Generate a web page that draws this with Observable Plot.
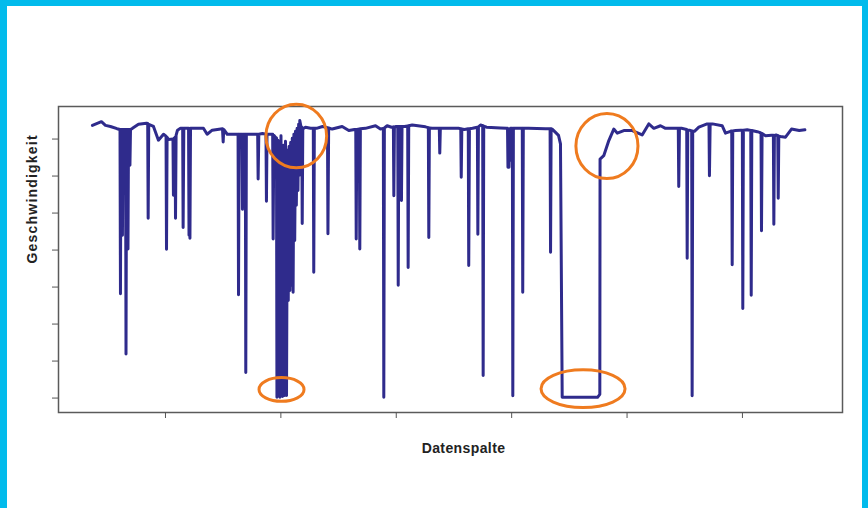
<!DOCTYPE html>
<html><head><meta charset="utf-8">
<script src="https://cdn.jsdelivr.net/npm/d3@7"></script>
<script src="https://cdn.jsdelivr.net/npm/@observablehq/plot@0.6"></script>
<style>
html,body{margin:0;padding:0;background:#fff;}
#wrap{position:relative;width:868px;height:508px;overflow:hidden;background:#fff;}
#chart svg{position:absolute;left:0;top:0;}
.b{position:absolute;background:#02bbec;}
</style></head><body>
<div id="wrap"><div id="chart"></div>
<div class="b" style="left:0;top:0;width:868px;height:6px"></div>
<div class="b" style="left:0;top:0;width:7px;height:508px"></div>
<div class="b" style="left:862px;top:0;width:6px;height:508px"></div>
</div>
<script>
// [Datenspalte, Geschwindigkeit]
const messreihe = [
[367,73.7],[445,74.7],[480,73.7],[523,73.4],[580,72.8],[606,72.6],
[610,28.2],[614,72.6],[623,72.6],[627,44.0],[632,72.6],[654,72.6],[658,11.9],[663,72.6],
[671,72.6],[675,40.3],[680,72.6],[688,72.6],[692,62.9],[697,72.6],[714,72.9],[766,74.0],
[835,74.3],[846,74.2],[850,48.6],[855,74.0],[896,73.4],[939,69.7],[983,71.3],[1005,70.8],
[1009,40.2],[1014,70.5],[1026,69.9],[1065,70.0],[1069,54.8],[1074,70.0],[1083,70.5],[1087,48.6],
[1092,71.0],[1104,72.4],[1130,72.9],[1149,72.9],[1153,46.1],[1159,72.9],[1173,72.9],[1200,72.9],
[1204,44.0],[1208,60.0],[1212,43.2],[1217,72.9],[1231,72.9],[1329,72.9],[1361,71.3],[1405,72.4],
[1494,72.8],[1500,69.2],[1505,72.6],[1535,71.3],[1621,71.3],[1629,71.3],[1633,27.9],[1638,71.3],
[1663,71.3],[1667,51.0],[1673,71.3],[1692,71.3],[1696,6.9],[1701,71.3],[1719,71.3],[1780,71.3],
[1799,71.3],[1803,59.2],[1809,71.3],[1841,71.5],[1871,71.3],[1875,53.2],[1880,71.3],[1910,71.3],
[1929,71.3],[1933,43.0],[1939,71.0],[1953,70.5],[1962,70.3],[1966,0.2],[1975,69.7],[1992,0.2],
[2001,70.9],[2014,0.4],[2023,68.3],[2031,0.7],[2040,69.4],[2049,0.7],[2057,67.0],[2064,26.4],
[2071,68.0],[2078,29.1],[2085,69.1],[2092,30.5],[2099,70.2],[2106,28.6],[2113,71.3],[2120,42.6],
[2127,72.1],[2134,52.1],[2141,72.9],[2148,56.1],[2154,74.0],[2160,60.2],[2164,75.0],[2174,73.4],
[2181,73.2],[2185,47.2],[2190,73.0],[2196,72.9],[2213,73.2],[2257,72.9],[2281,72.9],[2285,34.0],
[2290,72.9],[2309,72.9],[2361,73.4],[2404,73.1],[2408,44.4],[2414,73.0],[2445,72.7],[2531,73.4],
[2589,72.3],[2638,72.6],[2649,72.6],[2653,43.0],[2658,72.6],[2680,72.7],[2684,40.3],[2689,72.8],
[2733,72.9],[2820,73.6],[2863,72.7],[2888,72.9],[2892,0.2],[2897,73.0],[2921,73.6],[2959,73.2],
[2975,73.3],[2979,54.7],[2984,73.3],[2998,73.4],[3013,73.4],[3017,30.5],[3022,73.4],[3041,73.4],
[3045,53.4],[3050,73.4],[3071,73.4],[3099,73.5],[3103,35.3],[3108,73.6],[3138,73.8],[3253,73.3],
[3278,73.1],[3282,43.4],[3287,73.0],[3311,72.9],[3366,72.9],[3373,72.9],[3377,66.2],[3382,72.9],
[3470,72.9],[3539,72.9],[3559,72.8],[3563,59.7],[3568,72.7],[3591,72.6],[3624,72.8],[3628,35.8],
[3634,72.8],[3661,72.9],[3703,73.2],[3707,44.3],[3712,73.3],[3730,73.8],[3749,73.6],[3753,6.1],
[3758,73.5],[3782,73.2],[3903,73.0],[3955,72.9],[3964,72.9],[3968,62.4],[3973,70.0],[3977,62.4],
[3981,70.0],[3985,64.3],[3990,72.9],[4006,72.9],[4010,0.6],[4015,72.9],[4042,72.9],[4092,72.9],
[4096,28.6],[4101,72.9],[4146,72.9],[4293,72.8],[4333,72.8],[4337,39.4],[4342,72.8],[4351,72.7],
[4380,71.8],[4406,71.0],[4423,68.7],[4438,0.2],[4744,0.2],[4764,1.0],[4766,64.6],[4798,65.5],
[4842,69.6],[4885,72.7],[4915,71.6],[4972,72.3],[5045,72.3],[5131,71.1],[5188,74.1],[5232,72.9],
[5290,73.6],[5333,72.9],[5437,72.9],[5444,72.9],[5448,57.2],[5454,72.9],[5472,72.9],[5517,72.6],
[5521,37.8],[5526,72.4],[5541,72.4],[5560,72.2],[5564,0.6],[5569,72.1],[5584,72.1],[5622,73.2],
[5694,74.1],[5710,74.1],[5714,60.1],[5720,74.1],[5740,74.1],[5824,73.6],[5853,71.6],[5896,72.1],
[5907,72.2],[5911,36.0],[5916,72.2],[5940,72.3],[5983,72.4],[5999,72.4],[6003,24.2],[6008,72.4],
[6041,72.5],[6072,72.3],[6076,27.8],[6081,72.3],[6128,72.0],[6148,71.8],[6161,71.6],[6165,45.2],
[6170,71.5],[6200,70.9],[6252,71.0],[6268,71.0],[6272,47.0],[6277,71.0],[6291,71.1],[6306,70.9],
[6310,54.0],[6315,70.8],[6330,70.7],[6373,70.5],[6425,72.7],[6492,72.3],[6541,72.5]
];
const xTicks = [1000, 2000, 3000, 4000, 5000, 6000];
const yTicks = [0, 10, 20, 30, 40, 50, 60, 70];
const xTitel = "Datenspalte";
const yTitel = "Geschwindigkeit";
// highlighted regions: centre and half-extent in data units
const markierungen = [
  {spalte: 2138, wert: 70.7, breite: 263, hoehe: 8.6},
  {spalte: 2010, wert: 2.2, breite: 195, hoehe: 3.2},
  {spalte: 4623, wert: 2.4, breite: 364, hoehe: 5.1},
  {spalte: 4830, wert: 68.0, breite: 269, hoehe: 8.8}
];

const chart = Plot.plot({
  width: 868, height: 508,
  marginLeft: 58, marginRight: 26, marginTop: 106, marginBottom: 96,
  x: {domain: [73, 6867]},
  y: {domain: [-3.9, 78.8]},
  style: {fontFamily: "'Liberation Sans', Arial, sans-serif", color: "#222", background: "transparent"},
  marks: [
    Plot.frame({stroke: "#5a5a5a", strokeWidth: 1.5}),
    Plot.line(messreihe, {x: d => d[0], y: d => d[1], stroke: "#2f2b8c", strokeWidth: 3, strokeLinejoin: "round", strokeLinecap: "round"}),
    Plot.axisX(xTicks, {tickSize: 6, tickFormat: () => "", stroke: "#555", label: null}),
    Plot.axisY(yTicks, {tickSize: 6, tickFormat: () => "", stroke: "#555", label: null}),
    Plot.text([xTitel], {text: d => d, frameAnchor: "bottom", dx: 13, dy: 36, lineAnchor: "middle", fontWeight: "bold", fontSize: 14, fill: "#222"}),
    Plot.text([yTitel], {text: d => d, frameAnchor: "left", dx: -26, dy: 4, rotate: -90, lineAnchor: "middle", fontWeight: "bold", fontSize: 14, fill: "#222"})
  ]
});
document.getElementById("chart").appendChild(chart);

const sx = chart.scale("x"), sy = chart.scale("y");
const fx = d3.scaleLinear(sx.domain, sx.range), fy = d3.scaleLinear(sy.domain, sy.range);
d3.select(chart).append("g")
  .attr("fill", "none").attr("stroke", "#ef7b1f").attr("stroke-width", 3)
  .selectAll("ellipse").data(markierungen).join("ellipse")
  .attr("cx", d => fx(d.spalte)).attr("cy", d => fy(d.wert))
  .attr("rx", d => Math.abs(fx(d.spalte + d.breite) - fx(d.spalte)))
  .attr("ry", d => Math.abs(fy(d.wert + d.hoehe) - fy(d.wert)));
d3.select(chart).selectAll("text").filter(function() { return this.textContent === xTitel; }).attr("letter-spacing", "0.4");
d3.select(chart).selectAll("text").filter(function() { return this.textContent === yTitel; }).attr("letter-spacing", "1.2");
</script>
</body></html>
